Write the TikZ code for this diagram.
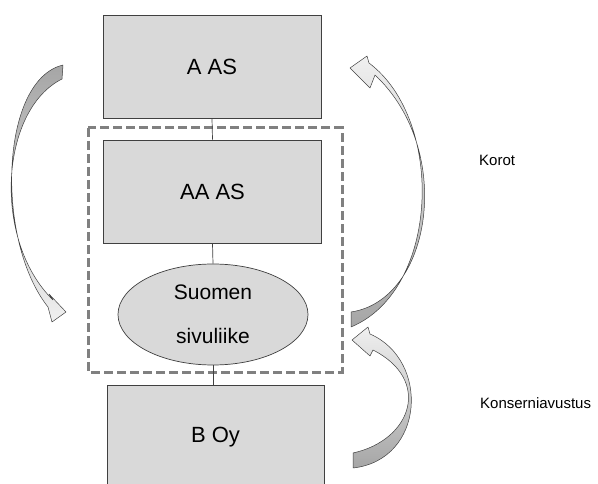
\documentclass[tikz,border=0pt]{standalone}
\usepackage{fontspec}
\setmainfont{Liberation Sans}
\usetikzlibrary{shapes.geometric}
\definecolor{boxgray}{HTML}{D9D9D9}
\definecolor{edgegray}{HTML}{404040}
\definecolor{dashgray}{HTML}{808080}
\begin{document}
\begin{tikzpicture}[x=1pt, y=-1pt,
    company/.style={draw=edgegray, fill=boxgray, line width=0.9pt, minimum width=218pt, minimum height=103pt, inner sep=0pt, font=\fontsize{22}{26}\selectfont},
    branch/.style={ellipse, draw=edgegray, fill=boxgray, line width=0.7pt, minimum width=190pt, minimum height=101pt, inner sep=0pt, align=center, font=\fontsize{21}{44}\selectfont},
    link/.style={draw=edgegray, line width=0.7pt},
    flow/.style={draw=edgegray, line width=0.5pt, line join=round},
    label/.style={anchor=west, inner sep=0pt, font=\fontsize{15}{18}\selectfont}]
    \useasboundingbox (0,0) rectangle (598,484);

    % Group border
    \draw[dashgray, line width=3pt, dash pattern=on 9pt off 4pt] (88,128) rectangle (342,372);

    % Companies
    \node[company] (aas) at (212,66.5) {A AS};
    \node[company] (aaas) at (212.5,191.5) {AA AS};
    \node[branch] (sivu) at (213,314.5) {Suomen\\sivuliike};
    \node[company, minimum width=217pt, minimum height=104pt] (boy) at (215.5,437) {B Oy};

    % Ownership lines
    \draw[link] (aas.south) -- (aaas.north);
    \draw[link] (aaas.south) -- (sivu.north);
    \draw[link] (sivu.south) -- (boy.north -| sivu.south);

    % Curved arrows
    \draw[flow, top color=black!35, bottom color=black!6]
        (63,65) -- (62,79) .. controls (0,110) and (-8,240) .. (53,300)
        -- (49,294) -- (66,312) -- (52,322) -- (48,307)
        .. controls (-5,240) and (0,80) .. (63,65) -- cycle;
    \draw[flow, top color=black!6, bottom color=black!35]
        (351,312) .. controls (432,300) and (455,150) .. (375,75)
        -- (370,88) -- (350,68) -- (367,56) -- (369,63)
        .. controls (445,120) and (440,290) .. (351,327) -- cycle;
    \draw[flow, top color=black!6, bottom color=black!35]
        (353,453) .. controls (412,440) and (432,380) .. (373,350)
        -- (370,356) -- (352,340) -- (368,327) -- (370,334)
        .. controls (430,360) and (425,460) .. (353,468) -- cycle;

    % Labels
    \node[label] (korot) at (479,160) {Korot};
    \node[label] (kons) at (480,403) {Konserniavustus};
\end{tikzpicture}
\end{document}
